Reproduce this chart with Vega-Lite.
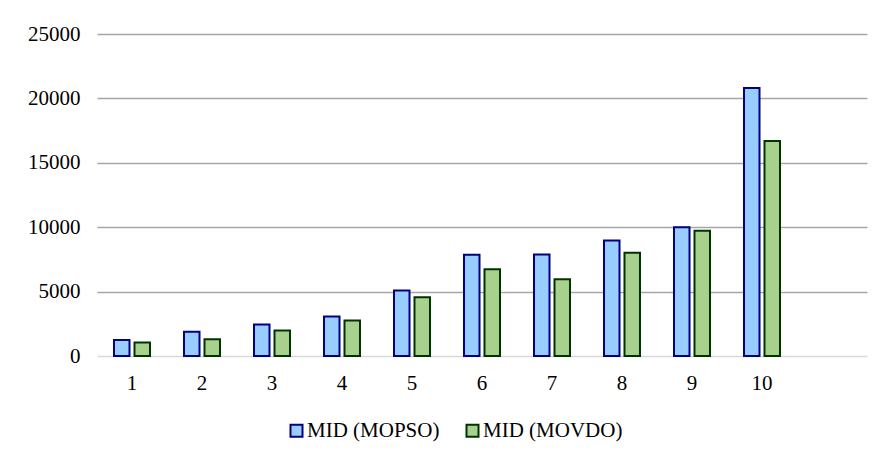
{
  "$schema": "https://vega.github.io/schema/vega-lite/v6.json",
  "width": 770,
  "height": 322,
  "autosize": {"type": "none"},
  "padding": {"left": 97, "top": 34, "right": 17, "bottom": 108},
  "background": "white",
  "data": {
    "values": [
      {"run": "1", "series": "MID (MOPSO)", "value": 1250},
      {"run": "1", "series": "MID (MOVDO)", "value": 1050},
      {"run": "2", "series": "MID (MOPSO)", "value": 1880},
      {"run": "2", "series": "MID (MOVDO)", "value": 1300},
      {"run": "3", "series": "MID (MOPSO)", "value": 2450},
      {"run": "3", "series": "MID (MOVDO)", "value": 1980},
      {"run": "4", "series": "MID (MOPSO)", "value": 3060},
      {"run": "4", "series": "MID (MOVDO)", "value": 2760},
      {"run": "5", "series": "MID (MOPSO)", "value": 5080},
      {"run": "5", "series": "MID (MOVDO)", "value": 4560},
      {"run": "6", "series": "MID (MOPSO)", "value": 7860},
      {"run": "6", "series": "MID (MOVDO)", "value": 6740},
      {"run": "7", "series": "MID (MOPSO)", "value": 7880},
      {"run": "7", "series": "MID (MOVDO)", "value": 5960},
      {"run": "8", "series": "MID (MOPSO)", "value": 8970},
      {"run": "8", "series": "MID (MOVDO)", "value": 8010},
      {"run": "9", "series": "MID (MOPSO)", "value": 10000},
      {"run": "9", "series": "MID (MOVDO)", "value": 9720},
      {"run": "10", "series": "MID (MOPSO)", "value": 20800},
      {"run": "10", "series": "MID (MOVDO)", "value": 16700}
    ]
  },
  "mark": {"type": "bar", "strokeWidth": 2},
  "encoding": {
    "x": {
      "field": "run",
      "type": "nominal",
      "scale": {
        "domain": ["1", "2", "3", "4", "5", "6", "7", "8", "9", "10", "11"],
        "paddingInner": 0.486,
        "paddingOuter": 0.243
      },
      "axis": {
        "title": null,
        "labelAngle": 0,
        "domain": false,
        "ticks": false,
        "labelPadding": 16,
        "labelExpr": "datum.value === '11' ? '' : datum.label"
      }
    },
    "xOffset": {
      "field": "series",
      "type": "nominal",
      "scale": {"paddingInner": 0.244, "paddingOuter": 0}
    },
    "y": {
      "field": "value",
      "type": "quantitative",
      "scale": {"domain": [0, 25000], "nice": false},
      "axis": {
        "title": null,
        "values": [0, 5000, 10000, 15000, 20000, 25000],
        "format": "d",
        "domain": false,
        "ticks": false,
        "labelPadding": 17,
        "gridColor": {"condition": {"test": "datum.value === 0", "value": "#D9D9D9"}, "value": "#A6A6A6"},
        "gridWidth": 1.4
      }
    },
    "fill": {
      "field": "series",
      "type": "nominal",
      "scale": {"range": ["#99CCFF", "#A9D18E"]},
      "legend": {
        "title": null,
        "orient": "none",
        "direction": "horizontal",
        "legendX": 189,
        "legendY": 386,
        "symbolType": "square",
        "symbolSize": 144,
        "symbolStrokeWidth": 2,
        "labelOffset": 0,
        "columnPadding": 22,
        "labelFont": "Liberation Serif",
        "labelFontSize": 21,
        "labelColor": "#000000"
      }
    },
    "stroke": {
      "field": "series",
      "type": "nominal",
      "scale": {"range": ["#000080", "#003300"]},
      "legend": null
    }
  },
  "config": {
    "view": {"stroke": null},
    "axis": {
      "labelFont": "Liberation Serif",
      "labelFontSize": 21,
      "labelColor": "#000000"
    },
    "axisX": {"grid": false},
    "axisY": {"grid": true}
  }
}
